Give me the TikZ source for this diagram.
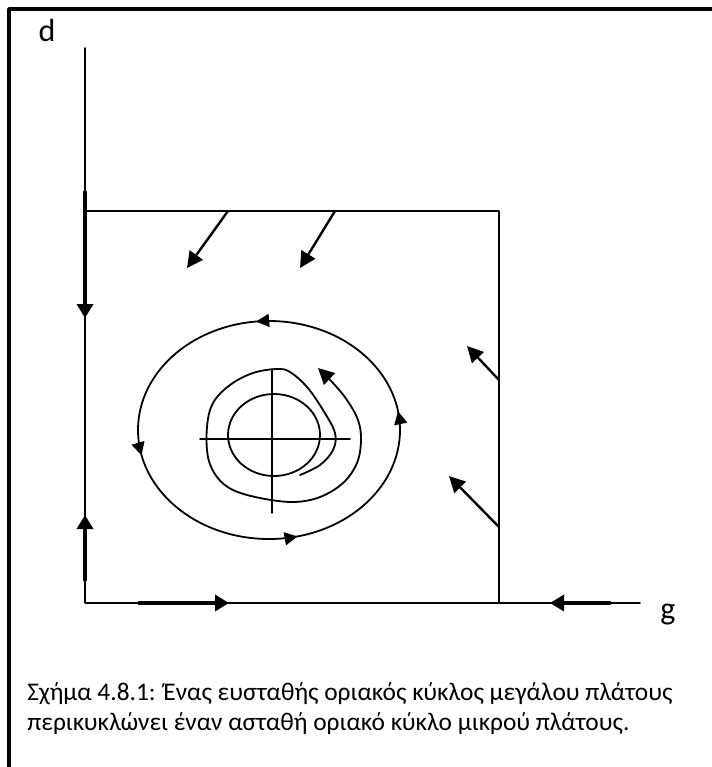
\documentclass[tikz,border=0pt]{standalone}
\usepackage{fontspec}
\setmainfont{Carlito}
\usetikzlibrary{calc,arrows.meta,decorations.markings}

\begin{document}
\begin{tikzpicture}[x=0.5pt, y=-0.5pt, line cap=round, line join=round,
  thinline/.style={line width=0.9pt},
  flow/.style={line width=1.2pt, -{Triangle[length=8pt,width=8pt]}},
  axisarrow/.style={line width=1.7pt, -{Triangle[length=7pt,width=8pt]}},
  ellarrows/.style={postaction={decorate}, decoration={markings,
    mark=at position 0.025 with {\arrow{Triangle[length=6.5pt,width=6.5pt]}},
    mark=at position 0.267 with {\arrow{Triangle[length=6.5pt,width=6.5pt]}},
    mark=at position 0.534 with {\arrow{Triangle[length=6.5pt,width=6.5pt]}},
    mark=at position 0.788 with {\arrow{Triangle[length=6.5pt,width=6.5pt]}}}}]
  \useasboundingbox (0,0) rectangle (712,767);

  % Πλαίσιο
  \draw[line width=1.7pt, line cap=butt] (9,767) -- (9,9) -- (712,9);

  % Άξονες d, g
  \coordinate (O) at (85,603);
  \coordinate (D) at (85,48);
  \coordinate (G) at (640,603);
  % Τετράγωνο
  \coordinate (A) at (85,211);
  \coordinate (B) at (499,211);
  \coordinate (C) at (499,603);
  % κέντρα κύκλων
  \coordinate (M) at (269,430);
  \coordinate (N) at (274,435);

  \draw[thinline] (D) -- (O) -- (G);
  \draw[thinline] (A) -- (B) -- (C);

  % Βέλη πάνω στους άξονες
  \draw[axisarrow] (85,192) -- (85,318);
  \draw[axisarrow] (85,580) -- (85,515);
  \draw[axisarrow] (139,603) -- (229,603);
  \draw[axisarrow] (610,603) -- (550,603);

  % Βέλη ροής από τις πλευρές
  \draw[flow] (228,211) -- (187,268);
  \draw[flow] (335,211) -- (300,268);
  \draw[flow] (499,380) -- (467,346);
  \draw[flow] (499,527) -- (449,476);

  % Ευσταθής οριακός κύκλος
  \draw[thinline, ellarrows] ($(M)+(131,0)$) arc[start angle=0, end angle=-360,
    x radius=131, y radius=109];

  % Ασταθής οριακός κύκλος και σταυρός
  \draw[thinline] (N) ellipse [x radius=46, y radius=41];
  \draw[thinline] (200,439) -- (350,439);
  \draw[thinline] (272,369) -- (272,513);

  % Σπείρα
  \draw[flow, line width=0.9pt] plot[smooth, tension=0.6] coordinates {
    (300,475) (320,465) (333,450) (335,433) (323,410) (307,387) (290,372)
    (277,369) (253,373) (230,385) (213,403) (207,427) (208,457) (217,477)
    (233,490) (260,498) (293,502) (320,497) (343,483) (357,463) (361,440)
    (358,420) (347,400) (333,383) (318,368)};

  % Ετικέτες
  \node[font=\fontsize{16}{18}\selectfont] (d) at (47,30) {d};
  \node[font=\fontsize{16}{18}\selectfont] (g) at (668,614) {g};
  \node[anchor=base west, inner sep=0pt, font=\fontsize{12.7}{15}\selectfont] (cap1) at (27,700)
    {Σχήμα 4.8.1: Ένας ευσταθής οριακός κύκλος μεγάλου πλάτους};
  \node[anchor=base west, inner sep=0pt, font=\fontsize{12.7}{15}\selectfont] (cap2) at (27,730)
    {περικυκλώνει έναν ασταθή οριακό κύκλο μικρού πλάτους.};
\end{tikzpicture}
\end{document}
